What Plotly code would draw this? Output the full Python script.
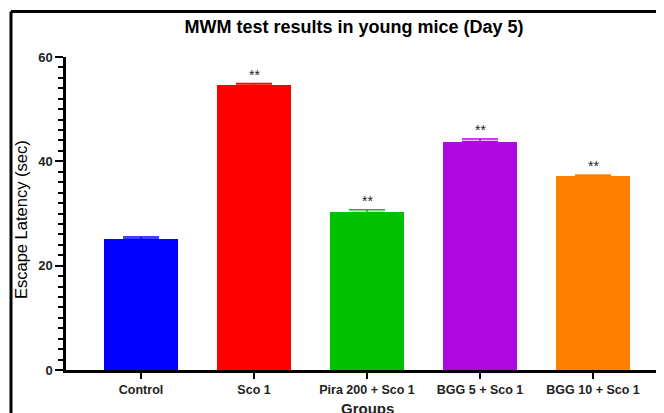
import plotly.graph_objects as go

groups = ["Control", "Sco 1", "Pira 200 + Sco 1", "BGG 5 + Sco 1", "BGG 10 + Sco 1"]
latency = [25.1, 54.6, 30.2, 43.8, 37.1]
sem = [0.4, 0.3, 0.5, 0.5, 0.3]
signif = ["", "**", "**", "**", "**"]
colors = ["#0000FF", "#FF0000", "#00C000", "#B008E0", "#FF8000"]
y_ticks = [0, 20, 40, 60]

FONT = "Liberation Sans, Arial, sans-serif"

fig = go.Figure()
fig.add_trace(go.Bar(
    x=groups, y=latency, width=0.66,
    marker=dict(color=colors, line=dict(width=0)),
    showlegend=False,
))
# error bar caps coloured per bar
for g, v, e, c in zip(groups, latency, sem, colors):
    fig.add_trace(go.Scatter(
        x=[g], y=[v], mode="markers", marker=dict(size=0.1, color=c, opacity=0),
        error_y=dict(type="data", array=[e], arrayminus=[0], color=c, thickness=1.5, width=18),
        showlegend=False, hoverinfo="skip",
    ))

for g, v, e, s in zip(groups, latency, sem, signif):
    if s:
        fig.add_annotation(x=g, y=v + e, text=s, showarrow=False, yanchor="bottom",
                           yshift=-1, font=dict(family=FONT, size=14, color="#222222"))

# axis titles
fig.add_annotation(xref="paper", yref="paper", x=(21 - 66) / 598, y=(370 - 220) / 313,
                   text="Escape Latency (sec)", textangle=-90, showarrow=False,
                   xanchor="center", yanchor="middle",
                   font=dict(family=FONT, size=16.5, color="black"))
fig.add_annotation(xref="paper", yref="paper", x=(367 - 66) / 598, y=(370 - 408) / 313,
                   text="<b>Groups</b>", showarrow=False, xanchor="center", yanchor="middle",
                   font=dict(family=FONT, size=15, color="#222222"))

# outer frame (top and left border)
fx = (11 - 66) / 598
fy = (370 - 11.5) / 313
fig.add_shape(type="line", xref="paper", yref="paper", x0=fx, x1=1.05, y0=fy, y1=fy,
              line=dict(color="black", width=3))
fig.add_shape(type="line", xref="paper", yref="paper", x0=fx, x1=fx, y0=fy, y1=-0.3,
              line=dict(color="black", width=3))

fig.update_layout(
    width=664, height=413,
    margin=dict(l=58, r=8, t=49, b=51, autoexpand=False),
    paper_bgcolor="white", plot_bgcolor="white",
    title=dict(text="<b>MWM test results in young mice (Day 5)</b>", x=346 / 664, xanchor="center",
               y=1 - 19 / 413, yanchor="middle", automargin=False,
               font=dict(family=FONT, size=18, color="black")),
    font=dict(family=FONT, color="black"),
    bargap=0,
)
fig.update_xaxes(
    range=[-0.664, 4.628], showline=True, linecolor="black", linewidth=2.5,
    ticks="outside", ticklen=6, tickwidth=2, tickcolor="black",
    tickfont=dict(family=FONT, size=12.5, color="#222222"),
    tickvals=groups, ticktext=["<b>%s</b>" % g for g in groups],
    showgrid=False, zeroline=False, automargin=False,
)
fig.update_yaxes(
    range=[0, 60], showline=True, linecolor="black", linewidth=2.5,
    ticks="outside", ticklen=8, tickwidth=2, tickcolor="black",
    tickvals=y_ticks, ticktext=["<b>%d</b>" % t for t in y_ticks],
    tickfont=dict(family=FONT, size=13, color="#222222"),
    minor=dict(dtick=2, ticks="outside", ticklen=5, tickwidth=2, tickcolor="black", showgrid=False),
    showgrid=False, zeroline=False, automargin=False,
)

fig.write_html("out.html")
